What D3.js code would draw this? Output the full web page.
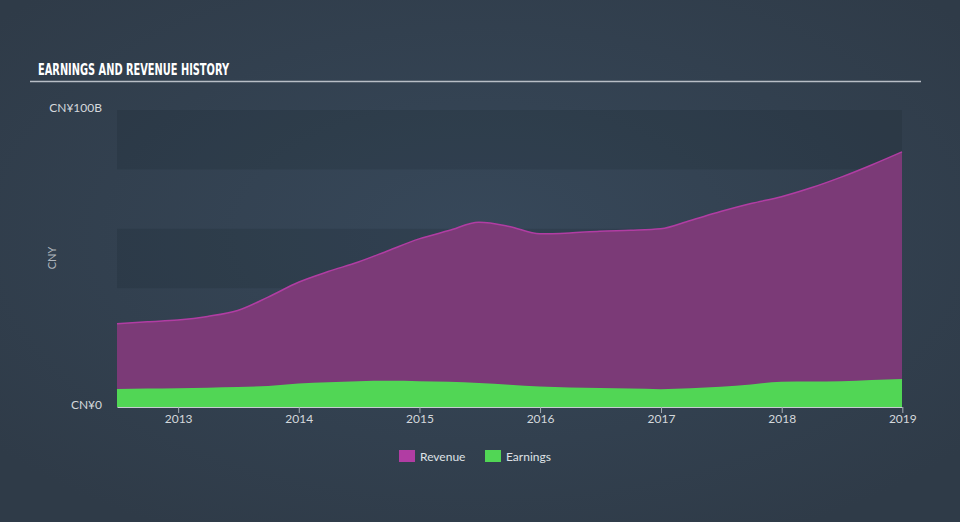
<!DOCTYPE html>
<html><head><meta charset="utf-8">
<script src="https://cdn.jsdelivr.net/npm/d3@7"></script>
<style>
html,body{margin:0;padding:0;background:#344352;}
svg{display:block;}
</style></head>
<body>
<svg id="chart" width="960" height="522"></svg>
<script>
const dates = ["2012-06-30","2012-09-30","2012-12-31","2013-03-31","2013-06-30","2013-09-30","2013-12-31",
"2014-03-31","2014-06-30","2014-09-30","2014-12-31","2015-03-31","2015-06-30","2015-09-30","2015-12-31",
"2016-03-31","2016-06-30","2016-09-30","2016-12-31","2017-03-31","2017-06-30","2017-09-30","2017-12-31",
"2018-03-31","2018-06-30","2018-09-30","2018-12-31"];
const revenue = [28.0,28.7,29.3,30.5,32.5,37.0,42.0,45.6,48.8,52.7,56.6,59.4,62.2,60.8,58.3,58.6,59.2,59.5,60.0,62.8,65.8,68.5,70.8,73.8,77.4,81.5,85.9];
const earnings = [6.1,6.2,6.3,6.5,6.7,7.1,7.9,8.3,8.7,8.8,8.7,8.5,8.1,7.5,6.9,6.6,6.4,6.2,6.0,6.3,6.8,7.6,8.5,8.6,8.7,9.1,9.4];
const yTickLabels = ["CN¥0","CN¥100B"];
const xTickYears = [2013,2014,2015,2016,2017,2018,2019];
const seriesNames = ["Revenue","Earnings"];
const seriesColors = ["#b13da3","#51d655"];

const svg = d3.select("#chart");
const W = 960, H = 522;
const defs = svg.append("defs");
const rg = defs.append("radialGradient").attr("id","bg").attr("cx","50%").attr("cy","45%").attr("r","65%");
rg.append("stop").attr("offset","0%").attr("stop-color","#37485a");
rg.append("stop").attr("offset","100%").attr("stop-color","#2f3b48");
svg.append("rect").attr("width",W).attr("height",H).attr("fill","url(#bg)");

// Title
svg.append("text").attr("x",38).attr("y",75)
  .attr("font-family","'DejaVu Sans Condensed','DejaVu Sans',sans-serif")
  .attr("font-weight","bold").attr("font-size",15.5).attr("fill","#ffffff")
  .attr("textLength",191).attr("lengthAdjust","spacingAndGlyphs")
  .text("EARNINGS AND REVENUE HISTORY");
svg.append("line").attr("x1",30).attr("x2",921).attr("y1",81.5).attr("y2",81.5)
  .attr("stroke","#b8bec6").attr("stroke-width",1.5);

const parse = d3.timeParse("%Y-%m-%d");
const data = dates.map((d,i)=>({date:parse(d), rev:revenue[i], earn:earnings[i]}));

const pL = 117, pR = 902, pT = 110, pB = 407;
const x = d3.scaleTime().domain([data[0].date, data[data.length-1].date]).range([pL, pR]);
const y = d3.scaleLinear().domain([0,100]).range([pB, pT]);

// bands
const bandVals = [80,60,40,20,0];
svg.append("g").selectAll("rect").data(bandVals).join("rect")
  .attr("x",pL).attr("width",pR-pL)
  .attr("y",d=>y(d+20)).attr("height",d=>y(d)-y(d+20))
  .attr("fill",(d,i)=> i%2===0 ? "rgba(20,30,40,0.16)" : "rgba(0,0,0,0)");

const area = key => d3.area().x(d=>x(d.date)).y0(y(0)).y1(d=>y(d[key])).curve(d3.curveMonotoneX);
const line = key => d3.line().x(d=>x(d.date)).y(d=>y(d[key])).curve(d3.curveMonotoneX);

svg.append("path").datum(data).attr("d",area("rev")).attr("fill","#7b3a77");
svg.append("path").datum(data).attr("d",line("rev")).attr("fill","none").attr("stroke","#b13da3").attr("stroke-width",1.5);
svg.append("path").datum(data).attr("d",area("earn")).attr("fill","#51d655");

// x axis
const xAxis = d3.axisBottom(x)
  .tickValues(xTickYears.map(yv=>new Date(yv,0,1)))
  .tickFormat(d3.timeFormat("%Y")).tickSize(6).tickSizeOuter(0);
const gx = svg.append("g").attr("transform",`translate(0,${pB})`).call(xAxis);
gx.select(".domain").attr("stroke","#c8ccd2").attr("stroke-width",1.2);
gx.selectAll(".tick line").attr("stroke","#a8aeb6");
gx.selectAll(".tick text").attr("fill","#d4d8dc").attr("font-family","Lato, 'Open Sans', sans-serif")
  .attr("font-size",12).attr("dy","0.6em");

// y labels
const clip = defs.append("clipPath").attr("id","yclip");
clip.append("rect").attr("x",47).attr("y",0).attr("width",100).attr("height",H);
const yAxis = d3.axisLeft(y).tickValues([0,100]).tickFormat((d,i)=>yTickLabels[i]).tickSize(0).tickPadding(0);
const gyWrap = svg.append("g").attr("clip-path","url(#yclip)");
const gy = gyWrap.append("g").attr("transform",`translate(${pL-15},0)`).call(yAxis);
gy.select(".domain").remove();
gy.selectAll(".tick text").attr("fill","#d4d8dc").attr("font-family","Lato, 'Open Sans', sans-serif")
  .attr("font-size",12).attr("dy","0.1em");

svg.append("text").attr("transform","translate(56,258) rotate(-90)")
  .attr("text-anchor","middle").attr("fill","#b0b6bd")
  .attr("font-family","Lato, 'Open Sans', sans-serif").attr("font-size",11).text("CNY");

// legend
const lg = svg.append("g");
const legX = [399, 485];
seriesNames.forEach((n,i)=>{
  lg.append("rect").attr("x",legX[i]).attr("y",450).attr("width",16).attr("height",12).attr("fill",seriesColors[i]);
  lg.append("text").attr("x",legX[i]+21).attr("y",460.5).attr("fill","#dfe2e6")
    .attr("font-family","Lato, 'Open Sans', sans-serif").attr("font-size",12).text(n);
});
</script>
</body></html>
